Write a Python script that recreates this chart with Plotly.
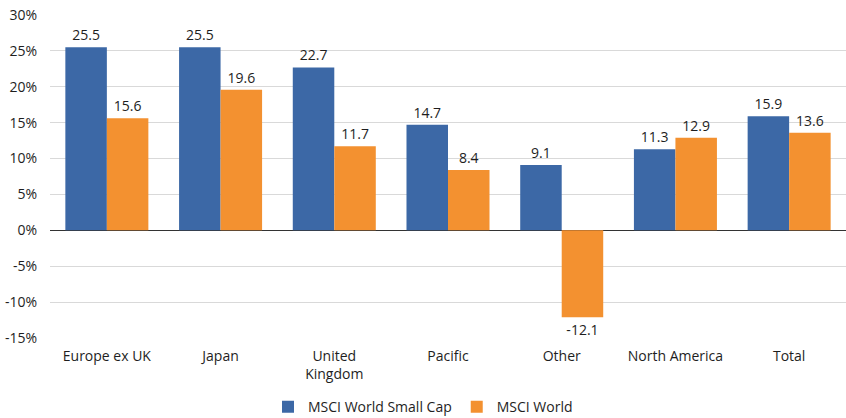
import plotly.graph_objects as go

categories = ["Europe ex UK", "Japan", "United<br>Kingdom", "Pacific", "Other", "North America", "Total"]
small_cap = [25.5, 25.5, 22.7, 14.7, 9.1, 11.3, 15.9]
world = [15.6, 19.6, 11.7, 8.4, -12.1, 12.9, 13.6]
y_ticks = [-15, -10, -5, 0, 5, 10, 15, 20, 25, 30]
y_tick_labels = [f"{v}%" for v in y_ticks]

font_family = "Open Sans, Noto Sans, sans-serif"
blue = "#3C68A6"
orange = "#F39130"
text_color = "#1E1E1E"

fig = go.Figure()
fig.add_trace(go.Bar(
    x=categories, y=small_cap, name="MSCI World Small Cap",
    marker=dict(color=blue, line=dict(width=0)),
    text=[f"{v:.1f}" for v in small_cap], textposition="outside",
    textfont=dict(size=14, color=text_color, family=font_family),
    cliponaxis=False,
))
fig.add_trace(go.Bar(
    x=categories, y=world, name="MSCI World",
    marker=dict(color=orange, line=dict(width=0)),
    text=[f"{v:.1f}" for v in world], textposition="outside",
    textfont=dict(size=14, color=text_color, family=font_family),
    cliponaxis=False,
))

fig.update_layout(
    width=846, height=418,
    margin=dict(l=50, r=0, t=15, b=80),
    paper_bgcolor="white", plot_bgcolor="white",
    barmode="group", bargap=0.27, bargroupgap=0,
    font=dict(family=font_family, size=14, color=text_color),
    showlegend=True,
    legend=dict(orientation="h", xref="container", x=0.5, xanchor="center",
                yref="container", y=0.026, yanchor="middle",
                font=dict(size=14, color=text_color), itemwidth=30,
                traceorder="normal"),
)
fig.update_xaxes(
    showgrid=False, showline=False, ticks="", tickfont=dict(size=14, color=text_color),
    ticklabelstandoff=8,
)
fig.update_yaxes(
    range=[-15, 30], tickvals=y_ticks, ticktext=y_tick_labels,
    showgrid=True, gridcolor="#D9D9D9", gridwidth=1,
    zeroline=True, zerolinecolor="#333333", zerolinewidth=1,
    showline=False, ticks="", tickfont=dict(size=14, color=text_color),
    ticklabelstandoff=12,
)

fig.write_html("out.html")
